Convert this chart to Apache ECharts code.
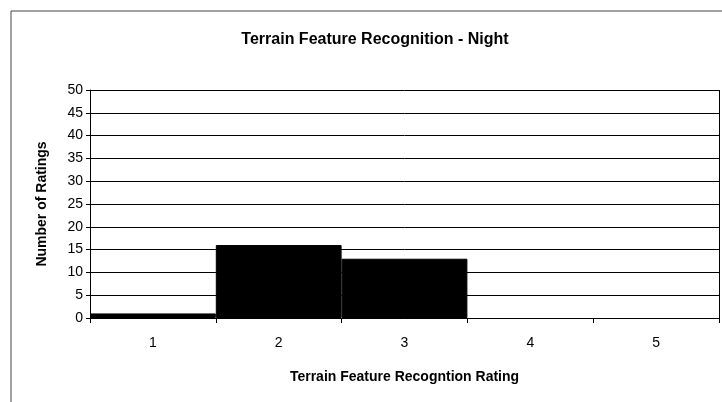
<!DOCTYPE html>
<html>
<head>
<meta charset="utf-8">
<script src="https://cdn.jsdelivr.net/npm/echarts@6/dist/echarts.min.js"></script>
<style>
  html, body { margin: 0; padding: 0; background: #fff; }
</style>
</head>
<body>
<div id="chart" style="width:722px;height:402px;"></div>
<script>
// categories and counts
const ratings = ['1', '2', '3', '4', '5'];
const counts = [1, 16, 13, 0, 0];
const yTicks = [0, 5, 10, 15, 20, 25, 30, 35, 40, 45, 50];

const myChart = echarts.init(document.getElementById('chart'));
const font = 'Liberation Sans, Arial, sans-serif';

const option = {
  animation: false,
  backgroundColor: '#fff',
  title: {
    text: 'Terrain Feature Recognition - Night',
    left: 370,
    top: 27,
    textAlign: 'center',
    textStyle: { fontFamily: font, fontSize: 16, fontWeight: 'bold', color: '#000' }
  },
  // outer chart frame, open to the right and bottom like the scan
  graphic: [{
    type: 'rect',
    shape: { x: 11, y: 11, width: 760, height: 420 },
    style: { fill: 'none', stroke: '#444', lineWidth: 1 }
  }],
  grid: { left: 90, right: 3, top: 90, bottom: 84 },
  xAxis: {
    type: 'category',
    data: ratings,
    name: 'Terrain Feature Recogntion Rating',
    nameLocation: 'middle',
    nameGap: 52,
    nameTextStyle: { fontFamily: font, fontSize: 14, fontWeight: 'bold', color: '#000' },
    axisLine: { lineStyle: { color: '#000', width: 1 } },
    axisTick: { show: true, length: 5, alignWithLabel: false, lineStyle: { color: '#000' } },
    axisLabel: { fontFamily: font, fontSize: 14, color: '#000', margin: 18 },
    splitLine: { show: false }
  },
  yAxis: {
    type: 'value',
    min: yTicks[0],
    max: yTicks[yTicks.length - 1],
    interval: 5,
    name: 'Number of Ratings',
    nameLocation: 'middle',
    nameGap: 41,
    nameTextStyle: { fontFamily: font, fontSize: 14, fontWeight: 'bold', color: '#000' },
    axisLine: { show: true, lineStyle: { color: '#000', width: 1 } },
    axisTick: { show: true, length: 4, lineStyle: { color: '#000' } },
    axisLabel: { fontFamily: font, fontSize: 14, color: '#000', margin: 7 },
    splitLine: { show: true, lineStyle: { color: '#000', width: 1 } }
  },
  series: [{
    type: 'bar',
    // border only on real bars so the bars merge without a seam
    data: counts.map(v => ({ value: v, itemStyle: { borderWidth: v ? 1 : 0 } })),
    barCategoryGap: '0%',
    itemStyle: { color: '#000', borderColor: '#000' }
  }, {
    // right-hand frame of the plot area
    type: 'line',
    data: [],
    markLine: {
      silent: true,
      symbol: 'none',
      label: { show: false },
      lineStyle: { color: '#000', type: 'solid', width: 1 },
      data: [[{ x: 719, y: 90 }, { x: 719, y: 318 }]]
    }
  }]
};

myChart.setOption(option);
</script>
</body>
</html>
